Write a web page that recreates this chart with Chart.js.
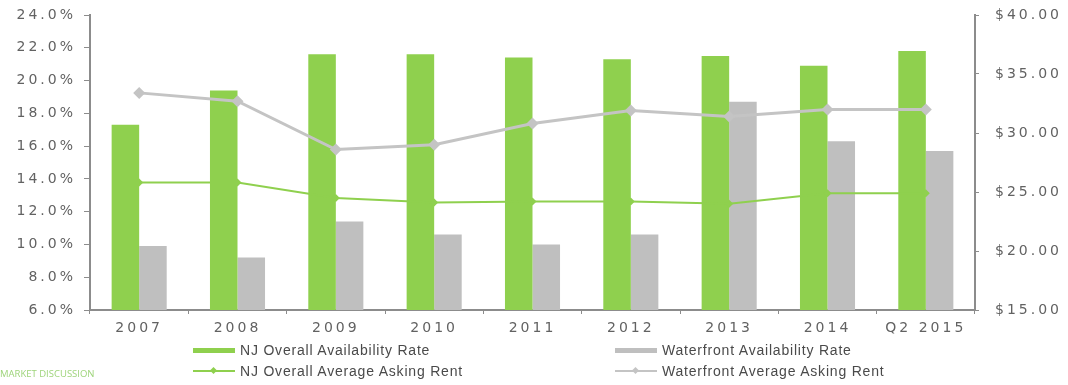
<!DOCTYPE html>
<html>
<head>
<meta charset="utf-8">
<script src="https://cdn.jsdelivr.net/npm/chart.js@4/dist/chart.umd.min.js"></script>
<style>
  html, body { margin: 0; padding: 0; background: #fff; }
  #wrap { position: relative; width: 1068px; height: 385px; overflow: hidden; }
  #chart { position: absolute; left: 0; top: 0; }
  .lg { position: absolute; font-family: "Liberation Sans", Arial, sans-serif; font-size: 14px;
        letter-spacing: 0.8px; color: #4a4a4a; line-height: 16px; white-space: nowrap; }
  .sw { position: absolute; }
  #note { position: absolute; left: 0; top: 367px; font-family: "Open Sans", sans-serif;
          font-size: 9.5px; color: #9ed47a; white-space: nowrap; }
</style>
</head>
<body>
<div id="wrap">
  <canvas id="chart" width="1068" height="385"></canvas>
  <div id="legend"></div>
  <div id="note">MARKET DISCUSSION</div>
</div>
<script>
var categories = ['2007', '2008', '2009', '2010', '2011', '2012', '2013', '2014', 'Q2 2015'];
var seriesNames = ['NJ Overall Availability Rate', 'Waterfront Availability Rate',
                   'NJ Overall Average Asking Rent', 'Waterfront Average Asking Rent'];
var njAvailability = [17.3, 19.4, 21.6, 21.6, 21.4, 21.3, 21.5, 20.9, 21.8];
var waterfrontAvailability = [9.9, 9.2, 11.4, 10.6, 10.0, 10.6, 18.7, 16.3, 15.7];
var njRent = [25.8, 25.8, 24.5, 24.1, 24.2, 24.2, 24.0, 24.9, 24.9];
var waterfrontRent = [33.4, 32.7, 28.6, 29.0, 30.8, 31.9, 31.4, 32.0, 32.0];

var green = '#8fd04e';
var greyBar = '#bfbfbf';
var greyLine = '#c4c4c4';
var axisGrey = '#8c8c8c';

// spaced-out tick text like the original
var spacing = {
  id: 'spacing',
  beforeUpdate: function (c) { c.ctx.letterSpacing = '3px'; },
  beforeDraw: function (c) { c.ctx.letterSpacing = '3px'; }
};

var tickFont = { family: 'DejaVu Sans', size: 14 };

// fixed axis sizes so the plot sits where the original does
function fitY(w) {
  return function (s) { s.width = w; s.paddingTop = 0; s.paddingBottom = 0; };
}

var chart = new Chart(document.getElementById('chart'), {
  type: 'bar',
  data: {
    labels: categories,
    datasets: [
      {
        type: 'line', label: seriesNames[2], data: njRent, yAxisID: 'y1', order: 0,
        borderColor: green, backgroundColor: green, borderWidth: 2,
        pointStyle: 'rectRot', pointRadius: 4, pointBorderWidth: 0
      },
      {
        type: 'line', label: seriesNames[3], data: waterfrontRent, yAxisID: 'y1', order: 0,
        borderColor: greyLine, backgroundColor: greyLine, borderWidth: 3,
        pointStyle: 'rectRot', pointRadius: 6, pointBorderWidth: 0
      },
      {
        label: seriesNames[0], data: njAvailability, yAxisID: 'y', order: 1,
        backgroundColor: green, categoryPercentage: 0.56, barPercentage: 1.0
      },
      {
        label: seriesNames[1], data: waterfrontAvailability, yAxisID: 'y', order: 1,
        backgroundColor: greyBar, categoryPercentage: 0.56, barPercentage: 1.0
      }
    ]
  },
  options: {
    responsive: false,
    animation: false,
    layout: { padding: { top: 15, left: 0, right: 0, bottom: 0 } },
    plugins: { legend: { display: false }, tooltip: { enabled: false } },
    scales: {
      x: {
        grid: { offset: true, drawOnChartArea: false, tickLength: 4, color: axisGrey, lineWidth: 1 },
        border: { color: axisGrey, width: 2 },
        ticks: { font: tickFont, color: '#626262', padding: 6, maxRotation: 0 },
        afterFit: function (s) { s.height = 75; }
      },
      y: {
        position: 'left', min: 6, max: 24,
        grid: { drawOnChartArea: false, tickLength: 6, color: axisGrey },
        border: { color: axisGrey, width: 2 },
        ticks: { stepSize: 2, font: tickFont, color: '#626262', padding: 8,
                 callback: function (v) { return v.toFixed(1) + '%'; } },
        afterFit: fitY(90)
      },
      y1: {
        position: 'right', min: 15, max: 40,
        grid: { drawOnChartArea: false, tickLength: 4, color: axisGrey },
        border: { color: axisGrey, width: 2 },
        ticks: { stepSize: 5, font: tickFont, color: '#626262', padding: 16,
                 callback: function (v) { return '$' + v.toFixed(2); } },
        afterFit: fitY(93)
      }
    }
  },
  plugins: [spacing]
});

// legend in two columns, built from the series names
var legend = document.getElementById('legend');
var items = [
  { name: seriesNames[0], x: 193, y: 350, kind: 'bar', color: green },
  { name: seriesNames[1], x: 615, y: 350, kind: 'bar', color: greyBar },
  { name: seriesNames[2], x: 193, y: 371, kind: 'line', color: green },
  { name: seriesNames[3], x: 615, y: 371, kind: 'line', color: greyLine }
];
items.forEach(function (it) {
  var sw = document.createElement('div');
  sw.className = 'sw';
  if (it.kind === 'bar') {
    sw.style.cssText = 'left:' + it.x + 'px;top:' + (it.y - 2) + 'px;width:42px;height:5px;background:' + it.color;
  } else {
    sw.style.cssText = 'left:' + it.x + 'px;top:' + (it.y - 1) + 'px;width:42px;height:2px;background:' + it.color;
    var d = document.createElement('div');
    d.className = 'sw';
    d.style.cssText = 'left:' + (it.x + 18) + 'px;top:' + (it.y - 3) + 'px;width:5px;height:5px;transform:rotate(45deg);background:' + it.color;
    legend.appendChild(d);
  }
  legend.appendChild(sw);
  var t = document.createElement('div');
  t.className = 'lg';
  t.style.left = (it.x + 47) + 'px';
  t.style.top = (it.y - 8) + 'px';
  t.textContent = it.name;
  legend.appendChild(t);
});
</script>
</body>
</html>
